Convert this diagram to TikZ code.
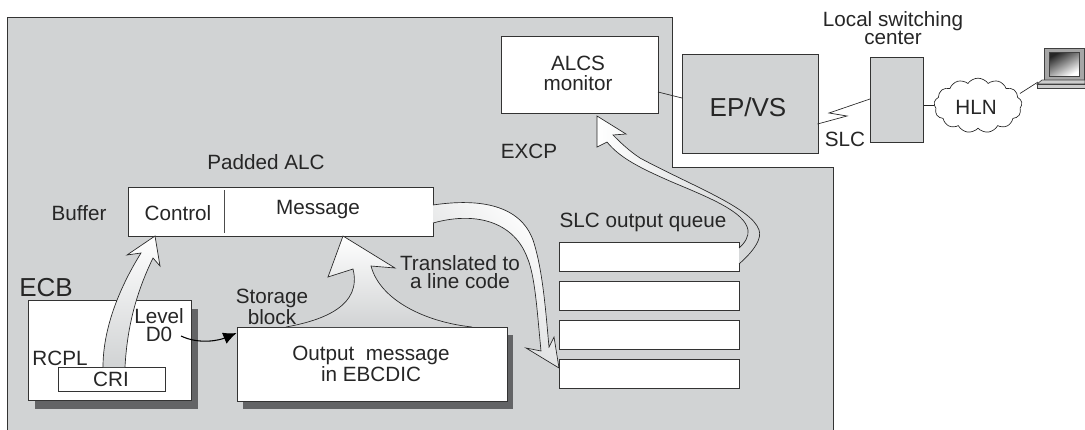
\documentclass[tikz,border=0pt]{standalone}
\usepackage{fontspec}
\setmainfont{Liberation Sans}
\usetikzlibrary{positioning,arrows.meta,shadows,shapes.symbols}
\definecolor{excpgray}{RGB}{209,211,212}
\definecolor{shadowgray}{RGB}{99,100,102}
\tikzset{
  box/.style={draw=black!80,fill=white,line width=0.6pt,inner sep=0pt,align=center},
  shadowbox/.style={box,drop shadow={shadow xshift=4.5pt,shadow yshift=-6pt,fill=shadowgray,opacity=1}},
  graybox/.style={draw=black!80,fill=excpgray,line width=0.6pt,inner sep=0pt,align=center},
  lbl/.style={font=\fontsize{15.5}{13}\selectfont,align=center,text=black!85,inner sep=0pt},
  link/.style={draw=black!85,line width=0.5pt},
  blockarrow/.style={draw=black!85,line width=0.5pt,line join=miter}
}
\begin{document}
\begin{tikzpicture}[x=0.75pt,y=0.75pt,yscale=-1,xscale=1]
	\useasboundingbox (0,0) rectangle (1085,429);
	%Shape: EXCP area
	\draw [draw=black!80,fill=excpgray,line width=0.6pt] (7,440) -- (7,17) -- (672,17) -- (672,167) -- (833,167) -- (833,440) ;
	
	%Shape: Rectangle
	\node (alcs) [box,minimum width=117.75pt,minimum height=57.75pt] at (579.5,74.5) {};
	\node (epvs) [graybox,minimum width=102pt,minimum height=74.25pt] at (750.5,103.5) {};
	\node (center) [graybox,minimum width=39.75pt,minimum height=63.75pt] at (897,99.5) {};
	\node (hln) [cloud,draw=black!85,line width=0.5pt,cloud puffs=13,cloud puff arc=110,aspect=1.6,inner sep=0pt,minimum width=66pt,minimum height=41pt] at (978,105.5) {};
	\node (buffer) [box,minimum width=228.75pt,minimum height=36.75pt] at (280.5,211.5) {};
	\node (ecb) [shadowbox,minimum width=122.25pt,minimum height=75pt] at (110,350.5) {};
	\node (cri) [box,minimum width=80.25pt,minimum height=18pt] at (111.5,379) {};
	\node (output) [shadowbox,minimum width=202.5pt,minimum height=55.5pt] at (372,364) {};
	\node (queuea) [box,minimum width=135pt,minimum height=21.75pt] at (649,256.5) {};
	\node (queueb) [box,minimum width=135pt,minimum height=21.75pt] at (649,295.5) {};
	\node (queuec) [box,minimum width=135pt,minimum height=21.75pt] at (649,334.5) {};
	\node (queued) [box,minimum width=135pt,minimum height=21.75pt] at (649,373.5) {};
	
	%Straight Lines
	\draw [draw=black!70,line width=0.5pt] (224,190) -- (224,233) ;
	\coordinate (alcsout) at (658,92);
	\coordinate (epvsin) at (682,98);
	\draw [link] (alcsout) -- (epvsin) ;
	\coordinate (slcstart) at (817.5,124);
	\coordinate (slcend) at (870,99);
	\draw [link] (slcstart) -- (847,116) -- (829,113) -- (slcend) ;
	\draw [link] (center.east |- hln.west) -- (hln.west) ;
	\coordinate (laptopin) at (1038,82);
	\draw [link] (hln.east) ++(-2,-12) -- (laptopin) ;
	
	%Block arrow: CRI to Control
	\draw [blockarrow,top color=white,bottom color=excpgray] (103,367) .. controls (103,330) and (118,290) .. (141,253) -- (127,255) -- (155,236) -- (160,266) -- (153,258) .. controls (135,295) and (127,330) .. (125,367) ;
	%Block arrow: Output to Message
	\draw [blockarrow,top color=white,bottom color=excpgray] (286,327) .. controls (325,320) and (362,305) .. (353,269) -- (328,277) -- (343,236) -- (395,268) -- (371,266) .. controls (380,300) and (425,322) .. (472,327) ;
	%Block arrow: Message to queue
	\draw [blockarrow,left color=excpgray,right color=white,shading angle=135] (433,205) .. controls (480,198) and (520,205) .. (533,240) .. controls (543,270) and (546,315) .. (549,347) -- (554,337) -- (559,368) -- (526,348) -- (541,351) .. controls (537,310) and (535,275) .. (527,257) .. controls (515,225) and (480,210) .. (433,223) ;
	%Block arrow: queue to ALCS
	\draw [blockarrow,left color=white,right color=excpgray] (739,264) .. controls (755,250) and (762,238) .. (759,230) .. controls (752,208) and (690,185) .. (640,158) .. controls (628,150) and (620,142) .. (613,135) -- (626,134) -- (597,116) -- (597,147) -- (607,142) .. controls (620,158) and (640,168) .. (672,182) .. controls (710,198) and (745,212) .. (748,230) .. controls (749,236) and (745,243) .. (739,248) ;
	%Curve: level to storage block
	\coordinate (levelout) at (181,336);
	\draw [line width=0.8pt,-{Latex[length=10pt,width=9pt]}] (levelout) .. controls (200,345) and (220,340) .. (output.west |- 0,333) ;
	
	%Laptop
	\node (screen) [draw=black!75,fill=black!35,line width=0.5pt,minimum width=30pt,minimum height=24pt,inner sep=0pt] at (1064,64) {};
	\node (display) [draw=black!75,left color=black!85,right color=white,shading angle=30,line width=0.4pt,minimum width=22.5pt,minimum height=18pt,inner sep=0pt] at (screen.center) {};
	\draw [draw=black!75,fill=black!20,line width=0.5pt] (1042,80) -- (1085,80) -- (1085,84) -- (1037,84) -- cycle ;
	\draw [draw=black!75,fill=black!20,line width=0.5pt] (1037,84) -- (1085,84) -- (1085,88) -- (1037,88) -- cycle ;
	
	% Text Node
	\draw (266,162) node (paddedlbl) [lbl] {Padded ALC};
	% Text Node
	\draw (79,213) node (bufferlbl) [lbl] {Buffer};
	% Text Node
	\draw (178,213) node (controllbl) [lbl] {Control};
	% Text Node
	\draw (318,210) node (messagelbl) [lbl] {Message};
	% Text Node
	\draw (46,288) node (ecblbl) [lbl,font=\fontsize{19.5}{19.5}\selectfont] {ECB};
	% Text Node
	\draw (60,358) node (rcpllbl) [lbl] {RCPL};
	% Text Node
	\draw (111,379) node (crilbl) [lbl] {CRI};
	% Text Node
	\draw (159,325) node (levellbl) [lbl] {Level\\D0};
	% Text Node
	\draw (272,307) node (storagelbl) [lbl] {Storage\\block};
	% Text Node
	\draw (371,364) node (outputlbl) [lbl] {Output~ message\\in EBCDIC};
	% Text Node
	\draw (460,272) node (translatedlbl) [lbl,font=\fontsize{15.5}{13.5}\selectfont] {Translated to\\a line code};
	% Text Node
	\draw (643,222) node (queuelbl) [lbl] {SLC output queue};
	% Text Node
	\draw (529,151) node (excplbl) [lbl] {EXCP};
	% Text Node
	\draw (578,73) node (alcslbl) [lbl,font=\fontsize{15.5}{15}\selectfont] {ALCS\\monitor};
	% Text Node
	\draw (748,107) node (epvslbl) [lbl,font=\fontsize{19.5}{19.5}\selectfont] {EP/VS};
	% Text Node
	\draw (845,139) node (slclbl) [lbl] {SLC};
	% Text Node
	\draw (893,28) node (centerlbl) [lbl,font=\fontsize{15.5}{14}\selectfont] {Local switching\\center};
	% Text Node
	\draw (976,107) node (hlnlbl) [lbl] {HLN};
\end{tikzpicture}
\end{document}
